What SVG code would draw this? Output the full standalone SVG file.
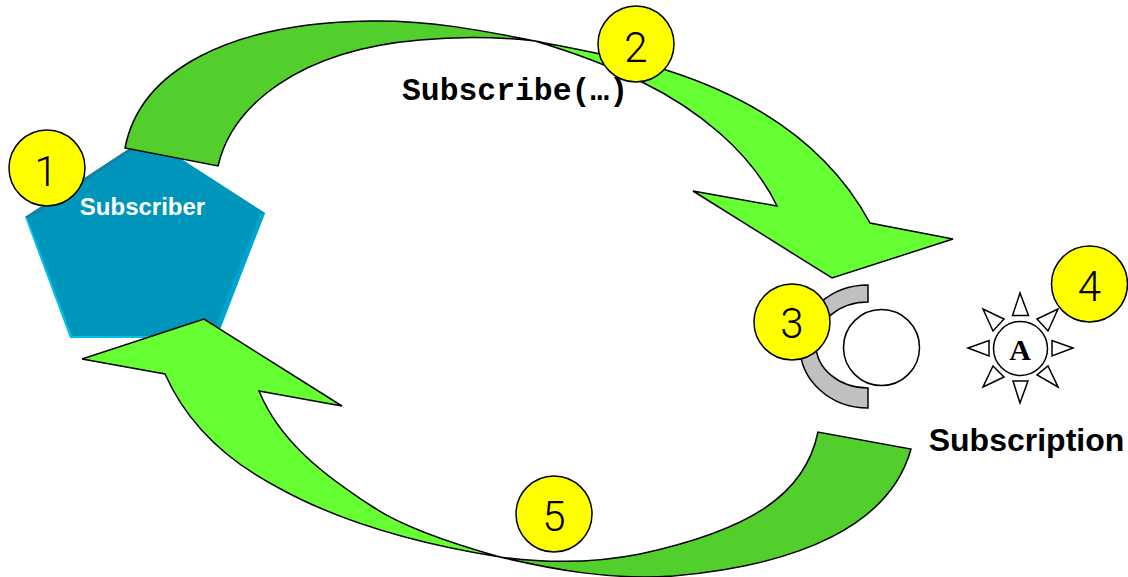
<svg xmlns="http://www.w3.org/2000/svg" width="1128" height="577" viewBox="0 0 1128 577">
<style>
.ln{stroke:#000;stroke-width:1.5;stroke-linejoin:miter}
.dark{fill:#52cf2c}
.light{fill:#66ff33}
.badge{fill:#ffff00;stroke:#000;stroke-width:1.5}
.num{font-family:Roboto,"Liberation Sans",Arial,sans-serif;font-weight:300;font-size:42px;fill:#000;text-anchor:middle}
.ray{fill:#fff;stroke:#000;stroke-width:1.5}
</style>
<rect width="1128" height="577" fill="#fff"/>
<g id="subscriber">
<polygon points="147,137 265,213 217,338 70,338 25,217" fill="#00c0ea"/>
<polygon points="147,137 265,213 215,336 72,336 27,217" fill="#0095bb"/>
<polygon points="147,137 25,217 28,218 147,140" fill="#1f7c98"/>
<polygon points="265,213 217,336 212,336 260,214" fill="#00a4cc"/>
<text x="142.500" y="215" font-family="Liberation Sans, Arial, sans-serif" font-weight="700" font-size="24" fill="#fff" text-anchor="middle">Subscriber</text>
</g>
<g id="connectors">
<path id="c1a" class="ln light" d="M535,41 C580,50 625,58 666,70 C745,95 825,140 870,223 L953,239 L832,278 L693,191 L777,206 C750,150 695,108 642,82 C610,66 575,53 535,41Z"/>
<path id="c1b" class="ln dark" d="M125,148 C140,70 230,23 370,21 C430,20 485,31 535,41 C500,37 460,36 420,40 C300,50 232,105 218,166Z"/>
<path id="c2a" class="ln light" d="M500,557 C425,545 345,525 277,487 C235,465 190,430 165,374 L82,359 L204,319 L342,406 L259,391 C280,442 325,476 373,507 C400,525 450,543 500,557Z"/>
<path id="c2b" class="ln dark" d="M911,449 C890,525 800,565 673,576 C610,580 555,570 500,557 C545,563 590,564 640,554 C750,530 805,495 818,432Z"/>
</g>
<g id="ear">
<path d="M868,285 A68,61.500 0 0 0 868,408 L868,388 A52,43 0 0 1 868,302Z" fill="#c0c0c0" stroke="#000" stroke-width="1.500"/>
<circle cx="881.500" cy="347.500" r="38" fill="#fff" stroke="#000" stroke-width="1.500"/>
</g>
<g id="subscription">
<circle cx="1020.500" cy="348.500" r="27" fill="#fff" stroke="#000" stroke-width="1.500"/>
<polygon class="ray" points="1020,293 1012.500,315.500 1028.500,315.500"/>
<polygon class="ray" points="1058,309 1037,319 1048,331"/>
<polygon class="ray" points="1073,348 1052,340.500 1052,356"/>
<polygon class="ray" points="1058,387 1037,375 1048,366"/>
<polygon class="ray" points="1020,403 1013,381 1028,381"/>
<polygon class="ray" points="983,387 1004,377 993,366"/>
<polygon class="ray" points="968,348 989,340.500 989,356"/>
<polygon class="ray" points="983,309 1004,319 993,331"/>
<text x="1020" y="360" font-family="Liberation Serif, Times New Roman, serif" font-weight="700" font-size="30" fill="#000" text-anchor="middle">A</text>
<text x="1026.500" y="451" font-family="Liberation Sans, Arial, sans-serif" font-weight="700" font-size="32" fill="#000" text-anchor="middle">Subscription</text>
</g>
<text id="call" x="402" y="100" font-family="Liberation Mono, Courier New, monospace" font-weight="700" font-size="31.400" fill="#000">Subscribe(…)</text>
<g id="badge1"><circle class="badge" cx="47" cy="168" r="38"/><text class="num" x="46" y="186">1</text></g>
<g id="badge2"><circle class="badge" cx="636" cy="44" r="38"/><text class="num" x="636" y="62">2</text></g>
<g id="badge3"><circle class="badge" cx="792" cy="322" r="38"/><text class="num" x="792" y="338">3</text></g>
<g id="badge4"><circle class="badge" cx="1089.500" cy="284" r="38"/><text class="num" x="1089.500" y="301">4</text></g>
<g id="badge5"><circle class="badge" cx="554" cy="514" r="38"/><text class="num" x="554" y="531">5</text></g>
</svg>
